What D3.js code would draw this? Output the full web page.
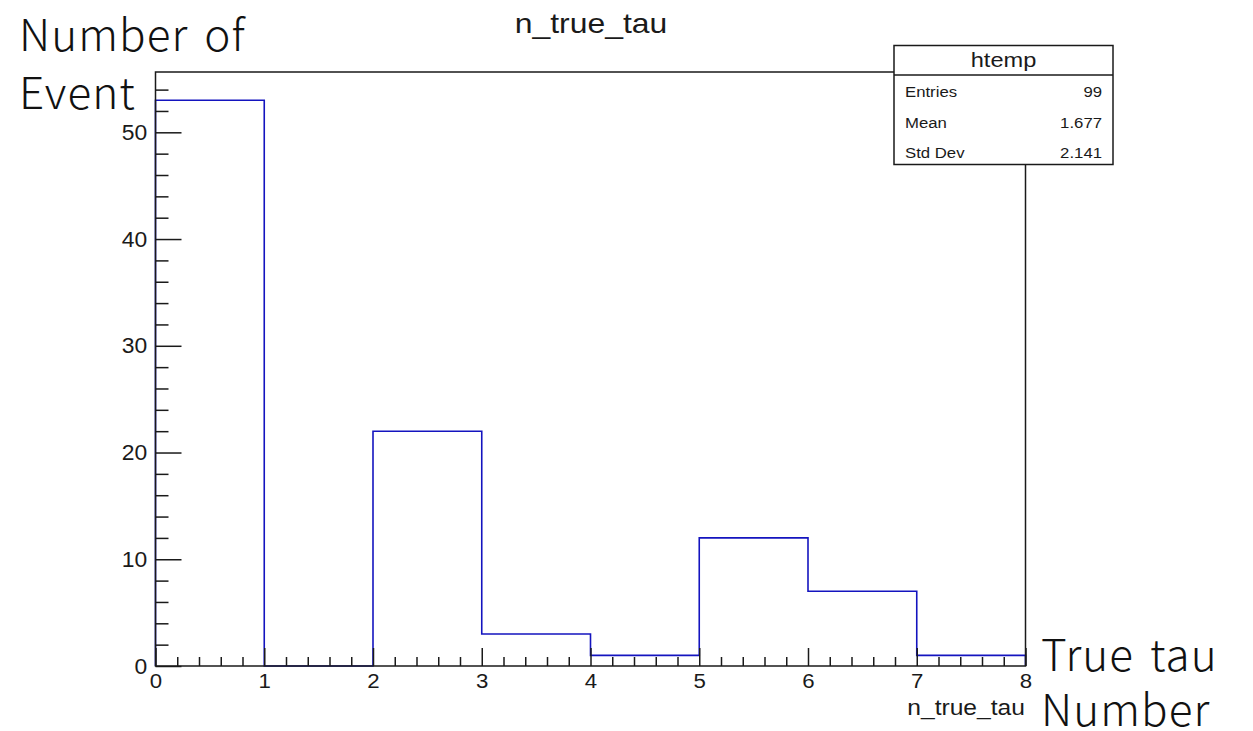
<!DOCTYPE html>
<html>
<head>
<meta charset="utf-8">
<script src="https://cdn.jsdelivr.net/npm/d3@7"></script>
<style>
  html, body { margin: 0; padding: 0; background: #fff; }
  svg { display: block; }
</style>
</head>
<body>
<svg id="chart" width="1253" height="731"></svg>
<script>
// ---- data ----
const binEdges = [0, 1, 2, 3, 4, 5, 6, 7, 8];
const binCounts = [53, 0, 22, 3, 1, 12, 7, 1];
const xTicks = [0, 1, 2, 3, 4, 5, 6, 7, 8];
const yTicks = [0, 10, 20, 30, 40, 50];
const statLabels = ["Entries", "Mean", "Std Dev"];
const statValues = ["99", "1.677", "2.141"];
const histTitle = "n_true_tau";
const statTitle = "htemp";
const xAxisTitle = "n_true_tau";
const yNote = ["Number of", "Event"];
const xNote = ["True tau", "Number"];

const svg = d3.select("#chart");
const fL = 155.5, fR = 1025.5, fT = 72, fB = 666;
const yMax = d3.max(binCounts) * 1.05;

const x = d3.scaleLinear().domain([0, 8]).range([fL, fR]);
const y = d3.scaleLinear().domain([0, yMax]).range([fB, fT]);

const sans = "'Liberation Sans', Arial, Helvetica, sans-serif";
const ink = "#1a1a1a";
const SX = 1.12; // horizontal stretch of the Helvetica-like texts

function txt(parent, px, py, str, size, anchor, sx) {
  return parent.append("text")
    .attr("transform", `translate(${px},${py}) scale(${sx || SX},1)`)
    .attr("text-anchor", anchor || "start")
    .attr("font-family", sans).attr("font-size", size).attr("fill", ink).text(str);
}

// title
txt(svg, 591, 33, histTitle, 28.5, "middle");

// histogram step outline
const pts = [[binEdges[0], 0]];
binCounts.forEach((c, i) => { pts.push([binEdges[i], c]); pts.push([binEdges[i + 1], c]); });
pts.push([binEdges[binEdges.length - 1], 0]);
svg.append("path")
  .attr("d", d3.line().x(d => x(d[0])).y(d => y(d[1]))(pts))
  .attr("fill", "none").attr("stroke", "#1414bf").attr("stroke-width", 1.6);

// axes
const minorX = d3.range(0, 8.0001, 0.2).filter(v => Math.abs(v - Math.round(v)) > 1e-6);
const minorY = d3.range(0, yMax, 2).filter(v => v % 10 !== 0);

svg.append("g").attr("transform", `translate(0,${fB})`)
  .call(d3.axisBottom(x).tickValues(minorX).tickSize(-9).tickFormat(""))
  .call(g => g.select(".domain").remove())
  .call(g => g.selectAll("line").attr("stroke", ink).attr("stroke-width", 1.5));
svg.append("g").attr("transform", `translate(0,${fB})`)
  .call(d3.axisBottom(x).tickValues(xTicks).tickSize(-18).tickPadding(7).tickFormat(d3.format("d")))
  .call(g => g.select(".domain").remove())
  .call(g => g.selectAll("line").attr("stroke", ink).attr("stroke-width", 1.5))
  .call(g => g.selectAll("text").attr("font-family", sans).attr("font-size", 21).attr("fill", ink)
    .attr("transform", "scale(1.06,1)"));

svg.append("g").attr("transform", `translate(0,0)`)
  .call(d3.axisLeft(y).tickValues(minorY).tickSize(-13).tickFormat(""))
  .attr("transform", `translate(${fL},0)`)
  .call(g => g.select(".domain").remove())
  .call(g => g.selectAll("line").attr("stroke", ink).attr("stroke-width", 1.5));
svg.append("g").attr("transform", `translate(${fL},0)`)
  .call(d3.axisLeft(y).tickValues(yTicks).tickSize(-26).tickPadding(8).tickFormat(d3.format("d")))
  .call(g => g.select(".domain").remove())
  .call(g => g.selectAll("line").attr("stroke", ink).attr("stroke-width", 1.5))
  .call(g => g.selectAll("text").attr("font-family", sans).attr("font-size", 22).attr("fill", ink)
    .attr("transform", "scale(1.04,1)"));

// frame
svg.append("rect").attr("x", fL).attr("y", fT).attr("width", fR - fL).attr("height", fB - fT)
  .attr("fill", "none").attr("stroke", ink).attr("stroke-width", 1.5);

// x axis title
txt(svg, fR - 0.5, 715, xAxisTitle, 22, "end");

// stats box
const sb = { x: 894, y: 45.5, w: 219, h: 119, hh: 29.5 };
const stats = svg.append("g");
stats.append("rect").attr("x", sb.x).attr("y", sb.y).attr("width", sb.w).attr("height", sb.h)
  .attr("fill", "#fff").attr("stroke", ink).attr("stroke-width", 1.5);
stats.append("line").attr("x1", sb.x).attr("x2", sb.x + sb.w).attr("y1", sb.y + sb.hh).attr("y2", sb.y + sb.hh)
  .attr("stroke", ink).attr("stroke-width", 1.5);
txt(stats, sb.x + sb.w / 2, 66.5, statTitle, 20, "middle", 1.18);
const rowY = d3.scalePoint().domain(statLabels).range([97, 158.3]);
statLabels.forEach((l, i) => {
  txt(stats, 905, rowY(l), l, 15.5, "start", 1.08);
  txt(stats, 1102, rowY(l), statValues[i], 15.5, "end", 1.08);
});

// large annotations
const cjk = "'Noto Sans CJK JP', 'Noto Sans', sans-serif";
function big(px, py, t) {
  svg.append("text").attr("x", px).attr("y", py)
    .attr("font-family", cjk).attr("font-size", 44).attr("font-weight", 300)
    .attr("letter-spacing", "1.1px").attr("word-spacing", "5px")
    .attr("fill", "#111").text(t);
}
yNote.forEach((t, i) => big(19, 51 + i * 57.5, t));
xNote.forEach((t, i) => big(1041, 671 + i * 55, t));
</script>
</body>
</html>
